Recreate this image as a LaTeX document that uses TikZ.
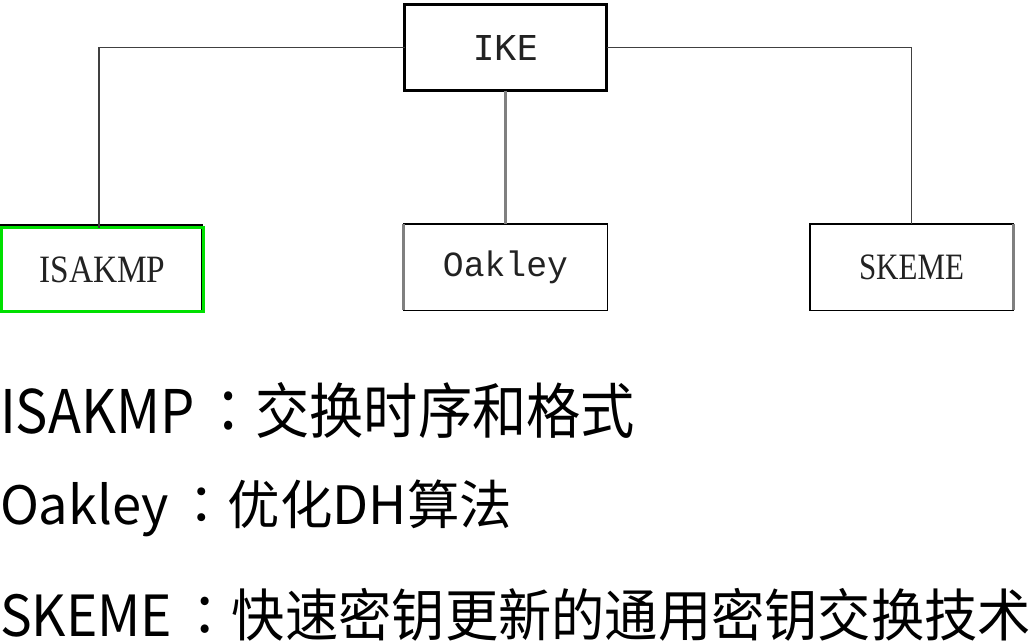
\documentclass[tikz,border=0pt]{standalone}
\usepackage{fontspec}
\usepackage{graphicx}
\setmainfont{Liberation Serif}
\newfontfamily\cjk{Noto Sans CJK SC}
\newfontfamily\cjkjp{Noto Sans CJK JP}
\newfontfamily\monoA{DejaVu Sans Mono}
\newfontfamily\monoB{Liberation Mono}
\definecolor{linegray}{HTML}{404040}
\definecolor{midgray}{HTML}{808080}
\definecolor{hlgreen}{HTML}{00E000}
\definecolor{labelc}{HTML}{222222}
\newcommand{\fwcolon}{\hspace{0.12em}{\cjkjp ：}}
\begin{document}
\begin{tikzpicture}[x=1pt,y=-1pt,
  box/.style={draw=black,line width=1.5pt,minimum width=203.5pt,minimum height=86.5pt,inner sep=0pt,outer sep=0pt,text=labelc},
  link/.style={draw=linegray,line width=1.5pt},
  midlink/.style={draw=midgray,line width=3pt},
  lbl/.style={anchor=north west,inner sep=0pt,outer sep=0pt}]
\useasboundingbox (0,0) rectangle (1031,642);
\node[box,line width=3pt,minimum width=202pt,minimum height=86pt] (ike) at (505.5,47.5)
  {\resizebox*{65pt}{25pt}{\monoA IKE}};
\draw[draw=black,line width=1.5pt] (0,224.75) -- (201.75,224.75) -- (201.75,311.5);
\node[box,draw=hlgreen,line width=3pt,minimum width=202pt,minimum height=84pt] (isa) at (102.5,269.5)
  {\resizebox*{126pt}{26pt}{ISAKMP}};
\node[box] (oak) at (505.5,267)
  {\resizebox*{125pt}{33pt}{\monoB Oakley}};
\node[box] (ske) at (911.5,267)
  {\resizebox*{105pt}{25pt}{SKEME}};
\draw[draw=midgray,line width=3pt] (oak.north west) -- (oak.south west);
\draw[draw=midgray,line width=3pt] (ske.north east) -- (ske.south east);
\draw[link] (ike.west) -| ([xshift=-3.5pt]isa.north);
\draw[link] (ike.east) -| (ske.north);
\draw[midlink] (ike.south) -- (oak.north);
\node[lbl] (t1) at (0,382) {\resizebox*{635pt}{56pt}{\cjk ISAKMP\fwcolon 交换时序和格式}};
\node[lbl] (t2) at (0,480) {\resizebox*{512pt}{57pt}{\cjk Oakley\fwcolon 优化DH算法}};
\node[lbl] (t3) at (0,588) {\resizebox*{1031pt}{53pt}{\cjk SKEME\fwcolon 快速密钥更新的通用密钥交换技术}};
\end{tikzpicture}
\end{document}
